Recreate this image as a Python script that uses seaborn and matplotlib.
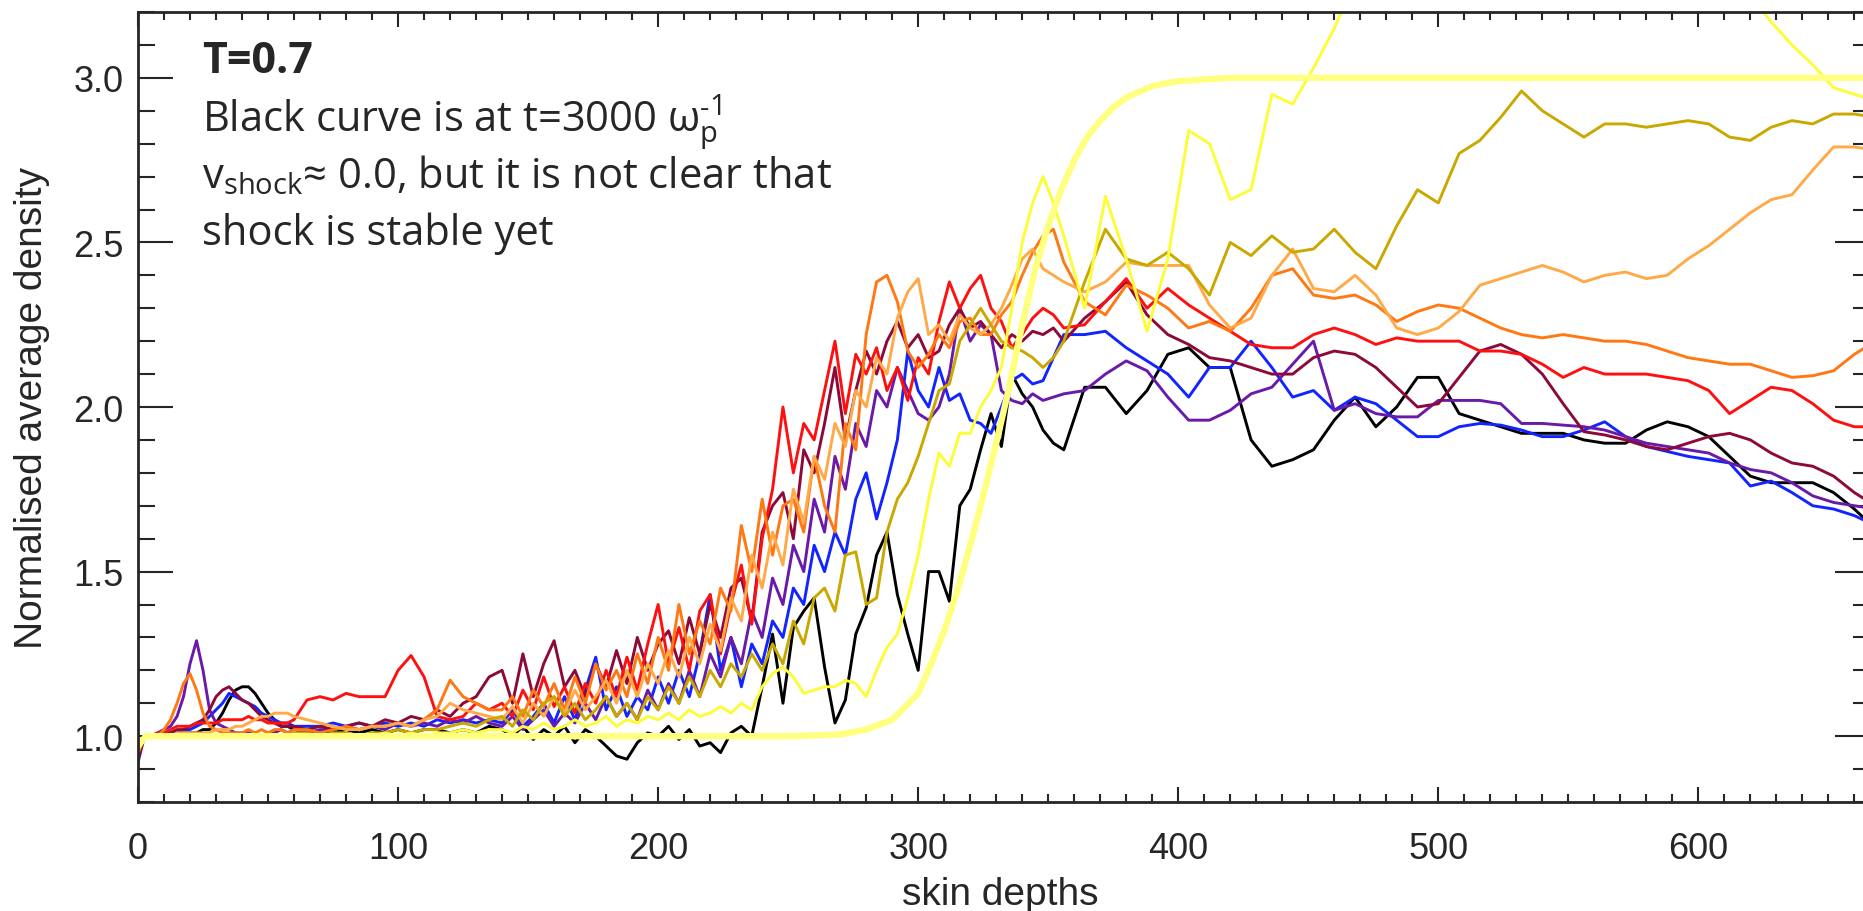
import numpy as np
import pandas as pd
import matplotlib
matplotlib.use("Agg")
import matplotlib.pyplot as plt
import seaborn as sns
from matplotlib.ticker import MultipleLocator

# sample positions along the box (skin depths)
x_fine = np.arange(0, 61, 2.5)      # 25 pts
x_mid = np.arange(65, 136, 5)       # 15 pts
x_noisy = np.arange(140, 357, 4)    # 55 pts
x_far = np.arange(364, 669, 8)      # 39 pts
x_all = np.concatenate([x_fine, x_mid, x_noisy, x_far])

# density profiles, one list per snapshot
black = [0.95, 1.0, 1.0, 1.0, 1.0, 1.0, 1.0, 1.01, 1.01, 1.01, 1.02, 1.02, 1.04,
         1.07, 1.11, 1.14, 1.15, 1.15, 1.13, 1.1, 1.07, 1.05, 1.03, 1.03, 1.02,
         1.02, 1.01, 1.01, 1.02, 1.01, 1.02, 1.01, 1.02, 1.01, 1.02, 1.02, 1.01, 1.02, 1.01, 1.03,
         1.02, 1.00, 1.03, 0.99, 1.02, 1.00, 1.03, 0.98, 1.02, 1.00, 0.97,
         0.94, 0.93, 0.98, 1.01, 1.00, 1.03, 0.99, 1.02, 0.97, 0.98, 0.95,
         1.01, 1.03, 1.00, 1.15, 1.31, 1.10, 1.33, 1.38, 1.42, 1.21, 1.04,
         1.11, 1.31, 1.39, 1.55, 1.62, 1.43, 1.31, 1.20, 1.50, 1.50, 1.41,
         1.70, 1.75, 1.87, 1.98, 1.88, 2.10, 2.04, 2.00, 1.93, 1.89, 1.87,
         2.06, 2.06, 1.98, 2.05, 2.16, 2.18, 2.12, 2.12, 1.90, 1.82, 1.84, 1.87, 1.96,
         2.03, 1.94, 2.00, 2.09, 2.09, 1.98, 1.96, 1.94, 1.92, 1.92, 1.92, 1.90, 1.89,
         1.89, 1.93, 1.955, 1.94, 1.91, 1.85, 1.79, 1.77, 1.77, 1.77, 1.74, 1.69, 1.63]

blue = [0.94, 1.0, 1.0, 1.0, 1.01, 1.01, 1.01, 1.02, 1.02, 1.03, 1.04, 1.06, 1.08,
        1.1, 1.13, 1.12, 1.11, 1.1, 1.09, 1.07, 1.06, 1.05, 1.04, 1.04, 1.03,
        1.03, 1.03, 1.04, 1.03, 1.04, 1.03, 1.04, 1.03, 1.04, 1.03, 1.05, 1.04, 1.05, 1.04, 1.05,
        1.04, 1.08, 1.03, 1.06, 1.10, 1.04, 1.12, 1.05, 1.14, 1.24, 1.08,
        1.15, 1.06, 1.12, 1.08, 1.18, 1.10, 1.20, 1.12, 1.25, 1.43, 1.20,
        1.30, 1.15, 1.28, 1.22, 1.35, 1.30, 1.45, 1.40, 1.58, 1.50, 1.62,
        1.55, 1.72, 1.80, 1.66, 1.77, 1.90, 2.17, 2.05, 2.00, 2.12, 2.02,
        2.04, 1.96, 1.95, 1.92, 2.00, 2.08, 2.10, 2.07, 2.08, 2.15, 2.22,
        2.22, 2.23, 2.18, 2.14, 2.10, 2.03, 2.12, 2.12, 2.20, 2.12, 2.03, 2.05, 1.99,
        2.03, 2.01, 1.96, 1.91, 1.91, 1.94, 1.95, 1.945, 1.93, 1.91, 1.91, 1.93, 1.955,
        1.91, 1.88, 1.865, 1.85, 1.84, 1.83, 1.76, 1.775, 1.74, 1.70, 1.69, 1.67, 1.64]

purple = [0.92, 1.0, 1.0, 1.01, 1.02, 1.03, 1.06, 1.12, 1.22, 1.29, 1.2, 1.08, 1.04,
          1.03, 1.02, 1.01, 1.01, 1.01, 1.01, 1.0, 1.01, 1.01, 1.02, 1.01, 1.02,
          1.01, 1.02, 1.02, 1.03, 1.02, 1.03, 1.02, 1.04, 1.03, 1.04, 1.03, 1.05, 1.04, 1.06, 1.04,
          1.03, 1.06, 1.02, 1.05, 1.08, 1.03, 1.07, 1.04, 1.10, 1.05, 1.12,
          1.06, 1.10, 1.05, 1.14, 1.08, 1.16, 1.10, 1.20, 1.12, 1.25, 1.18,
          1.30, 1.22, 1.38, 1.30, 1.48, 1.40, 1.58, 1.50, 1.72, 1.62, 1.85,
          1.75, 1.95, 1.88, 2.05, 2.00, 2.12, 2.05, 1.98, 1.96, 2.00, 2.10,
          2.30, 2.20, 2.25, 2.22, 2.05, 2.02, 2.01, 2.04, 2.02, 2.03, 2.04,
          2.05, 2.10, 2.14, 2.11, 2.03, 1.96, 1.96, 1.99, 2.04, 2.06, 2.13, 2.20, 1.99,
          2.01, 1.98, 1.97, 1.97, 2.02, 2.02, 2.02, 2.01, 1.95, 1.95, 1.945, 1.94, 1.93,
          1.91, 1.89, 1.88, 1.87, 1.86, 1.83, 1.81, 1.80, 1.77, 1.73, 1.71, 1.70, 1.69]

maroon = [0.93, 1.0, 1.0, 1.0, 1.01, 1.01, 1.02, 1.02, 1.03, 1.04, 1.05, 1.08, 1.12,
          1.14, 1.15, 1.13, 1.11, 1.1, 1.08, 1.06, 1.05, 1.04, 1.03, 1.03, 1.03,
          1.02, 1.03, 1.02, 1.03, 1.04, 1.03, 1.05, 1.04, 1.06, 1.05, 1.08, 1.06, 1.10, 1.12, 1.18,
          1.20, 1.10, 1.25, 1.12, 1.22, 1.29, 1.15, 1.20, 1.12, 1.22, 1.15,
          1.26, 1.16, 1.30, 1.20, 1.28, 1.32, 1.22, 1.36, 1.25, 1.40, 1.30,
          1.45, 1.48, 1.35, 1.62, 1.70, 1.74, 1.60, 1.87, 1.80, 1.95, 2.12,
          1.90, 2.05, 2.17, 2.10, 2.20, 2.26, 2.18, 2.22, 2.15, 2.17, 2.25,
          2.30, 2.24, 2.26, 2.22, 2.18, 2.22, 2.20, 2.23, 2.22, 2.24, 2.20,
          2.27, 2.32, 2.38, 2.28, 2.22, 2.19, 2.15, 2.14, 2.12, 2.10, 2.10, 2.15, 2.17,
          2.16, 2.12, 2.06, 2.00, 2.01, 2.09, 2.17, 2.19, 2.16, 2.10, 2.01, 1.925, 1.915,
          1.90, 1.88, 1.87, 1.89, 1.91, 1.92, 1.90, 1.86, 1.83, 1.82, 1.79, 1.74, 1.70]

red = [0.95, 1.0, 1.0, 1.01, 1.01, 1.02, 1.03, 1.03, 1.03, 1.04, 1.04, 1.04, 1.04,
       1.05, 1.05, 1.05, 1.05, 1.06, 1.05, 1.05, 1.04, 1.04, 1.04, 1.04, 1.05,
       1.11, 1.12, 1.11, 1.13, 1.12, 1.12, 1.12, 1.20, 1.245, 1.18, 1.06, 1.05, 1.06, 1.10, 1.08,
       1.10, 1.06, 1.14, 1.08, 1.18, 1.09, 1.15, 1.07, 1.16, 1.10, 1.20,
       1.12, 1.24, 1.14, 1.28, 1.40, 1.22, 1.33, 1.20, 1.38, 1.43, 1.25,
       1.40, 1.52, 1.34, 1.60, 1.75, 2.00, 1.80, 1.95, 1.90, 2.05, 2.20,
       1.98, 2.16, 2.10, 2.18, 2.05, 2.12, 2.02, 2.15, 2.10, 2.26, 2.38,
       2.30, 2.36, 2.40, 2.30, 2.26, 2.18, 2.22, 2.27, 2.30, 2.28, 2.24,
       2.25, 2.32, 2.39, 2.30, 2.36, 2.31, 2.27, 2.23, 2.19, 2.18, 2.18, 2.22, 2.24,
       2.22, 2.19, 2.21, 2.20, 2.20, 2.20, 2.17, 2.17, 2.16, 2.13, 2.09, 2.12, 2.10,
       2.10, 2.10, 2.09, 2.08, 2.05, 1.98, 2.02, 2.06, 2.05, 2.01, 1.96, 1.94, 1.94]

orange = [0.95, 1.0, 1.0, 1.0, 1.02, 1.05, 1.1, 1.16, 1.19, 1.14, 1.07, 1.03, 1.02,
          1.01, 1.01, 1.01, 1.01, 1.02, 1.01, 1.02, 1.01, 1.02, 1.02, 1.01, 1.02,
          1.02, 1.01, 1.02, 1.03, 1.02, 1.03, 1.03, 1.04, 1.03, 1.05, 1.08, 1.17, 1.12, 1.10, 1.08,
          1.08, 1.12, 1.06, 1.14, 1.09, 1.16, 1.08, 1.18, 1.10, 1.22, 1.14,
          1.20, 1.12, 1.25, 1.16, 1.30, 1.20, 1.40, 1.25, 1.35, 1.28, 1.45,
          1.38, 1.64, 1.50, 1.72, 1.55, 1.70, 1.72, 1.62, 1.85, 1.70, 1.62,
          1.95, 1.87, 2.22, 2.38, 2.40, 2.32, 2.17, 2.12, 2.16, 2.22, 2.18,
          2.26, 2.27, 2.22, 2.22, 2.28, 2.32, 2.40, 2.47, 2.52, 2.54, 2.44,
          2.32, 2.28, 2.37, 2.34, 2.30, 2.24, 2.26, 2.23, 2.30, 2.40, 2.42, 2.34, 2.33,
          2.34, 2.31, 2.26, 2.29, 2.31, 2.30, 2.27, 2.24, 2.22, 2.21, 2.22, 2.21, 2.20,
          2.20, 2.19, 2.17, 2.15, 2.14, 2.13, 2.13, 2.11, 2.09, 2.095, 2.11, 2.16, 2.20]

light_orange = [0.95, 1.0, 1.0, 1.0, 1.0, 1.0, 1.01, 1.01, 1.01, 1.01, 1.01, 1.01, 1.02,
                1.02, 1.02, 1.03, 1.03, 1.04, 1.05, 1.06, 1.06, 1.07, 1.07, 1.07, 1.06,
                1.05, 1.04, 1.03, 1.02, 1.02, 1.03, 1.03, 1.04, 1.03, 1.05, 1.06, 1.10, 1.08, 1.07, 1.06,
                1.05, 1.09, 1.04, 1.10, 1.06, 1.12, 1.07, 1.14, 1.08, 1.12, 1.17,
                1.10, 1.20, 1.12, 1.22, 1.16, 1.26, 1.18, 1.30, 1.22, 1.34, 1.26,
                1.42, 1.35, 1.55, 1.45, 1.62, 1.52, 1.75, 1.65, 1.85, 1.78, 1.95,
                1.88, 2.05, 2.00, 2.15, 2.10, 2.27, 2.35, 2.39, 2.22, 2.25, 2.20,
                2.28, 2.24, 2.22, 2.25, 2.30, 2.37, 2.45, 2.48, 2.42, 2.40, 2.38,
                2.35, 2.38, 2.44, 2.43, 2.43, 2.43, 2.31, 2.24, 2.27, 2.40, 2.48, 2.36, 2.35,
                2.40, 2.34, 2.24, 2.22, 2.24, 2.29, 2.37, 2.39, 2.41, 2.43, 2.41, 2.38, 2.40,
                2.41, 2.39, 2.40, 2.45, 2.49, 2.54, 2.59, 2.63, 2.645, 2.72, 2.79, 2.79, 2.78]

gold = [0.95, 1.0, 1.0, 1.0, 1.0, 1.0, 1.0, 1.0, 1.0, 1.0, 1.0, 1.0, 1.0,
        1.0, 1.0, 1.0, 1.0, 1.0, 1.0, 1.0, 1.0, 1.0, 1.0, 1.0, 1.01,
        1.01, 1.00, 1.01, 1.01, 1.00, 1.01, 1.01, 1.02, 1.01, 1.02, 1.02, 1.03, 1.04, 1.03, 1.05,
        1.06, 1.03, 1.08, 1.05, 1.10, 1.12, 1.06, 1.10, 1.05, 1.08, 1.12,
        1.06, 1.10, 1.05, 1.12, 1.08, 1.15, 1.10, 1.18, 1.12, 1.20, 1.15,
        1.22, 1.18, 1.25, 1.20, 1.28, 1.22, 1.35, 1.28, 1.42, 1.45, 1.38,
        1.55, 1.56, 1.40, 1.42, 1.62, 1.72, 1.77, 1.85, 1.95, 2.05, 2.07,
        2.20, 2.25, 2.30, 2.25, 2.20, 2.18, 2.17, 2.15, 2.12, 2.15, 2.20,
        2.38, 2.54, 2.45, 2.43, 2.47, 2.42, 2.34, 2.50, 2.46, 2.52, 2.47, 2.48, 2.54,
        2.47, 2.42, 2.55, 2.66, 2.62, 2.77, 2.81, 2.88, 2.96, 2.90, 2.86, 2.82, 2.86,
        2.86, 2.85, 2.86, 2.87, 2.86, 2.82, 2.81, 2.85, 2.87, 2.86, 2.89, 2.89, 2.88]

yellow = [0.97, 1.0, 1.0, 1.0, 1.0, 1.0, 1.0, 1.0, 1.0, 1.0, 1.0, 1.0, 1.0,
          1.0, 1.0, 1.0, 1.0, 1.0, 1.0, 1.0, 1.0, 1.0, 1.0, 1.0, 1.0,
          1.00, 1.00, 1.00, 1.00, 1.00, 1.00, 1.01, 1.00, 1.01, 1.00, 1.01, 1.01, 1.02, 1.01, 1.02,
          1.02, 1.01, 1.03, 1.02, 1.04, 1.02, 1.03, 1.05, 1.03, 1.04, 1.06,
          1.03, 1.05, 1.04, 1.06, 1.05, 1.07, 1.05, 1.08, 1.06, 1.07, 1.09,
          1.07, 1.10, 1.08, 1.15, 1.19, 1.21, 1.18, 1.13, 1.14, 1.15, 1.15,
          1.17, 1.16, 1.12, 1.20, 1.27, 1.31, 1.42, 1.55, 1.72, 1.86, 1.82,
          1.92, 1.92, 2.00, 2.05, 2.12, 2.30, 2.50, 2.62, 2.70, 2.62, 2.52,
          2.30, 2.64, 2.45, 2.23, 2.45, 2.84, 2.80, 2.63, 2.66, 2.95, 2.92, 3.03, 3.15,
          3.30, 3.45, 3.50, 3.50, 3.50, 3.50, 3.50, 3.50, 3.50, 3.50, 3.50, 3.50, 3.50,
          3.50, 3.50, 3.50, 3.50, 3.45, 3.35, 3.25, 3.17, 3.10, 3.04, 2.97, 2.95, 2.93]

# smooth reference profile (thick pale yellow)
x_smooth = [0, 3, 250, 270, 280, 290, 300, 305, 310, 315, 320, 325, 330, 335,
            340, 345, 350, 355, 360, 365, 370, 375, 380, 390, 400, 420, 668]
y_smooth = [0.97, 1.0, 1.0, 1.005, 1.02, 1.05, 1.13, 1.22, 1.32, 1.44, 1.58, 1.73, 1.89, 2.06,
            2.25, 2.42, 2.55, 2.66, 2.75, 2.82, 2.87, 2.91, 2.94, 2.975, 2.99, 3.0, 3.0]

curve_names = ["black", "blue", "purple", "maroon", "red", "orange",
               "light orange", "gold", "yellow"]
curve_colors = ["#000000", "#1224ff", "#6a1aa8", "#8c0a3a", "#ff1010", "#ff7814",
                "#ffaa48", "#c9a800", "#fcfc38"]
profiles = [black, blue, purple, maroon, red, orange, light_orange, gold, yellow]

frames = []
for name, vals in zip(curve_names, profiles):
    assert len(vals) == len(x_all), (name, len(vals))
    frames.append(pd.DataFrame({"x": x_all, "density": vals, "curve": name}))
df = pd.concat(frames, ignore_index=True)

sns.set_style("ticks")
plt.rcParams["font.family"] = ["Liberation Sans", "DejaVu Sans"]
plt.rcParams["mathtext.fontset"] = "custom"
plt.rcParams["mathtext.rm"] = "Open Sans"

W, H = 1863, 912
fig = plt.figure(figsize=(W / 100, H / 100), dpi=100)
ax = fig.add_axes([138 / W, 109 / H, 1732 / W, 790 / H])

sns.lineplot(data=df, x="x", y="density", hue="curve", hue_order=curve_names,
             palette=dict(zip(curve_names, curve_colors)), estimator=None,
             sort=False, linewidth=2.1, legend=False, ax=ax)
sns.lineplot(x=x_smooth, y=y_smooth, color="#ffff80", linewidth=4.6, ax=ax)

ax.set_xlim(0, 666)
ax.set_ylim(0.8, 3.2)
ax.xaxis.set_major_locator(MultipleLocator(100))
ax.xaxis.set_minor_locator(MultipleLocator(10))
ax.yaxis.set_major_locator(MultipleLocator(0.5))
ax.yaxis.set_minor_locator(MultipleLocator(0.1))
ax.yaxis.set_major_formatter(matplotlib.ticker.FormatStrFormatter("%.1f"))

ax.tick_params(axis="x", which="major", direction="in", length=10.8, width=1.5,
               top=True, bottom=True, labelsize=26, pad=21)
ax.tick_params(axis="x", which="minor", direction="in", length=5.8, width=1.5,
               top=True, bottom=True)
ax.tick_params(axis="y", which="major", direction="in", length=25, width=1.5,
               left=True, right=True, labelsize=26, pad=10.5)
ax.tick_params(axis="y", which="minor", direction="in", length=12.2, width=1.5,
               left=True, right=True)
for s in ax.spines.values():
    s.set_linewidth(2.0)
    s.set_visible(True)
ax.set_xlabel("")
ax.set_ylabel("")

fig.text(1000 / W, 1 - 905 / H, "skin depths", ha="center", va="baseline", fontsize=28)
fig.text(32 / W, 1 - 408 / H, "Normalised average density", rotation=90,
         ha="center", va="center", fontsize=28)

# annotation block
tx = 202 / W
note_font = ["Open Sans", "DejaVu Sans"]
fig.text(tx, 1 - 73 / H, "T=0.7", fontsize=31, fontweight="bold",
         family=note_font, va="baseline")
fig.text(tx, 1 - 131 / H, "Black curve is at t=3000 $\\mathregular{\\omega_p^{\u2010 1}}$",
         fontsize=30, family=note_font, va="baseline")
fig.text(tx, 1 - 188 / H, r"$\mathregular{v_{shock}}$≈ 0.0, but it is not clear that",
         fontsize=30, family=note_font, va="baseline")
fig.text(tx, 1 - 245 / H, "shock is stable yet", fontsize=30, family=note_font,
         va="baseline")

fig.savefig("out.png", dpi=100)
